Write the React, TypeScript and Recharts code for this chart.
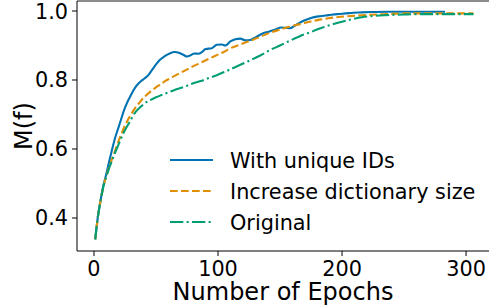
import * as React from "react"
import { LineChart, Line, XAxis, YAxis, Legend, ReferenceLine, Label } from "recharts"

const FONT = "'DejaVu Sans', sans-serif"

const xTicks = [0, 100, 200, 300]
const yTicks = [0.4, 0.6, 0.8, 1.0]

const uniqueIdsEpochs = [1, 3, 5, 7.5, 10, 12, 14, 17, 20, 25, 30, 34, 38, 41, 44, 47, 50, 53, 57, 61, 65, 69, 72, 75, 78, 81, 84, 87, 90, 95, 99, 103, 106, 110, 114, 118, 122, 126, 131, 136, 141, 146, 151, 155, 158, 162, 166, 170, 175, 182, 189, 196, 203, 209, 216, 223, 236, 249, 266, 283]
const uniqueIdsScores = [0.338, 0.4, 0.445, 0.493, 0.528, 0.56, 0.59, 0.632, 0.665, 0.72, 0.758, 0.782, 0.797, 0.805, 0.815, 0.83, 0.845, 0.858, 0.869, 0.877, 0.881, 0.878, 0.873, 0.868, 0.872, 0.877, 0.876, 0.881, 0.89, 0.892, 0.902, 0.903, 0.9, 0.912, 0.918, 0.92, 0.915, 0.916, 0.925, 0.935, 0.94, 0.946, 0.952, 0.951, 0.95, 0.958, 0.966, 0.973, 0.98, 0.985, 0.988, 0.991, 0.993, 0.995, 0.996, 0.997, 0.998, 0.998, 0.998, 0.998]

const dictSizeEpochs = [1, 3, 5, 7.5, 10, 12, 16, 20, 25, 29, 33, 37, 41, 45, 49, 53, 57, 61, 65, 72, 79, 86, 93, 99, 105, 110, 118, 126, 134, 142, 150, 158, 166, 174, 182, 189, 196, 209, 223, 236, 249, 263, 276, 290, 306]
const dictSizeScores = [0.338, 0.4, 0.443, 0.49, 0.523, 0.545, 0.585, 0.625, 0.668, 0.695, 0.718, 0.736, 0.752, 0.765, 0.776, 0.786, 0.796, 0.804, 0.812, 0.825, 0.838, 0.85, 0.862, 0.872, 0.882, 0.892, 0.903, 0.914, 0.925, 0.937, 0.946, 0.955, 0.962, 0.969, 0.975, 0.979, 0.982, 0.986, 0.989, 0.991, 0.993, 0.993, 0.993, 0.993, 0.993]

const originalEpochs = [1, 3, 5, 7.5, 10, 12, 16, 20, 25, 29, 33, 37, 41, 45, 50, 55, 60, 65, 72, 79, 86, 92, 99, 105, 110, 118, 126, 134, 142, 150, 158, 166, 174, 182, 190, 200, 209, 216, 223, 236, 250, 263, 280, 295, 306]
const originalScores = [0.338, 0.4, 0.443, 0.49, 0.521, 0.542, 0.58, 0.615, 0.655, 0.68, 0.705, 0.72, 0.733, 0.741, 0.75, 0.757, 0.764, 0.771, 0.779, 0.789, 0.797, 0.805, 0.814, 0.823, 0.831, 0.844, 0.857, 0.871, 0.887, 0.9, 0.914, 0.927, 0.938, 0.949, 0.959, 0.969, 0.977, 0.982, 0.985, 0.988, 0.99, 0.991, 0.991, 0.991, 0.991]

const toPoints = (epochs: number[], scores: number[]) =>
  epochs.map((epoch, i) => ({ epoch, score: scores[i] }))

const series = [
  { name: "With unique IDs", color: "#0173b2", dash: undefined as string | undefined, data: toPoints(uniqueIdsEpochs, uniqueIdsScores) },
  { name: "Increase dictionary size", color: "#de8f05", dash: "7.7 3.3", data: toPoints(dictSizeEpochs, dictSizeScores) },
  { name: "Original", color: "#029e73", dash: "13.3 3.3 2.1 3.3", data: toPoints(originalEpochs, originalScores) },
]

function LegendBox() {
  return (
    <svg width={320} height={95} style={{ display: "block" }}>
      {series.map((s, i) => {
        const y = 15 + i * 31
        return (
          <g key={s.name}>
            <line x1={5} x2={48} y1={y} y2={y} stroke={s.color} strokeWidth={2.1} strokeDasharray={s.dash} />
            <text x={65} y={y + 7.6} fontSize={20.8} fontFamily={FONT} fill="#000">{s.name}</text>
          </g>
        )
      })}
    </svg>
  )
}

export default function App() {
  const tickStyle = { fontSize: 20.8, fill: "#000", fontFamily: FONT }
  return (
    <div style={{ position: "absolute", left: 0, top: 0, width: 489, height: 308, overflow: "hidden", background: "#fff" }}>
      <LineChart width={489} height={308} margin={{ top: 1, right: 0, left: 0, bottom: 0 }}>
        <XAxis
          dataKey="epoch"
          type="number"
          domain={[-13.7, 318.5]}
          ticks={xTicks}
          allowDataOverflow
          height={57}
          tick={tickStyle}
          tickSize={5}
          tickMargin={5}
          stroke="#000"
          tickLine={{ stroke: "#000" }}
        >
          <Label value="Number of Epochs" position="insideBottom" offset={8} fontSize={24} fill="#000" fontFamily={FONT} />
        </XAxis>
        <YAxis
          type="number"
          domain={[0.3043, 1.029]}
          ticks={yTicks}
          allowDataOverflow
          width={77}
          tick={tickStyle}
          tickSize={5}
          tickMargin={4}
          tickFormatter={(v: number) => v.toFixed(1)}
          stroke="#000"
          tickLine={{ stroke: "#000" }}
        >
          <Label
            content={() => (
              <text x={31.5} y={126} transform="rotate(-90 31.5 126)" textAnchor="middle" fontSize={24} fontFamily={FONT} fill="#000">
                M(f)
              </text>
            )}
          />
        </YAxis>
        <ReferenceLine y={1.029} stroke="#666" strokeWidth={1.5} ifOverflow="visible" />
        {series.map(s => (
          <Line
            key={s.name}
            data={s.data}
            dataKey="score"
            name={s.name}
            type="monotone"
            stroke={s.color}
            strokeWidth={2.1}
            strokeDasharray={s.dash}
            dot={false}
            isAnimationActive={false}
          />
        ))}
        <Legend
          layout="vertical"
          align="center"
          verticalAlign="middle"
          wrapperStyle={{ left: 165, top: 145, width: 320 }}
          content={() => <LegendBox />}
        />
      </LineChart>
    </div>
  )
}
